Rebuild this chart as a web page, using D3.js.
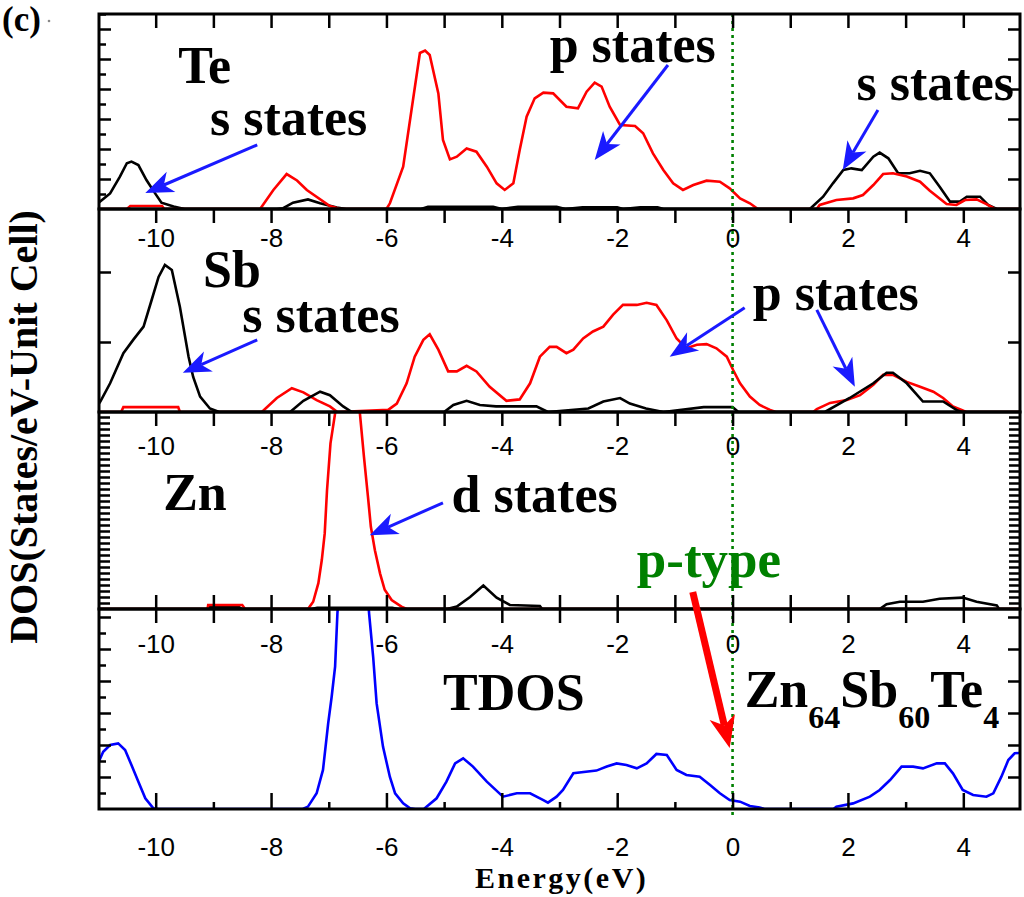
<!DOCTYPE html>
<html><head><meta charset="utf-8">
<script src="https://cdnjs.cloudflare.com/ajax/libs/d3/7.8.5/d3.min.js"></script>
<style>body{margin:0;background:#fff}svg{display:block}</style>
</head><body>
<svg id="chart" width="1024" height="897"></svg>
<script>
// ---------------- data ----------------
const energyTicks = [-10, -8, -6, -4, -2, 0, 2, 4];
const energyTickLabels = ["-10", "-8", "-6", "-4", "-2", "0", "2", "4"];
const energyMinorTicks = [-10, -9, -8, -7, -6, -5, -4, -3, -2, -1, 0, 1, 2, 3, 4];
const panelNames = ["Te", "Sb", "Zn", "TDOS"];

// Te s states (black)
const teS = [[-11,0.38],[-10.79,1.04],[-10.62,2.16],[-10.5,3.05],[-10.42,3.16],[-10.3,2.93],[-10.16,1.93],[-10.01,1.04],[-9.9,0.42],[-9.69,0.16],[-9.5,0],[-7.9,0],[-7.79,0.05],[-7.62,0.42],[-7.36,0.64],[-7.15,0.38],[-6.86,0.1],[-6.7,0],[-5.4,0],[-5.28,0.15],[-4.15,0.15],[-4.0,0],[-3.72,0.15],[-3.05,0.15],[-2.9,0],[-2.6,0.12],[-2.0,0.12],[-1.9,0],[-1.6,0.12],[-1.3,0.12],[-1.2,0],[1.34,0],[1.57,0.82],[1.74,1.71],[1.92,2.6],[2.06,2.71],[2.24,2.6],[2.44,3.49],[2.55,3.76],[2.7,3.38],[2.87,2.38],[3.07,2.38],[3.25,2.55],[3.42,2.38],[3.59,1.49],[3.77,0.49],[3.94,0.49],[4.06,0.82],[4.29,0.82],[4.43,0.27],[4.58,0],[5,0]];
// Te p states (red)
const teP = [[-11,0],[-10.5,0],[-10.44,0.2],[-9.89,0.2],[-9.85,0],[-8.19,0],[-7.96,1.27],[-7.73,2.33],[-7.55,1.9],[-7.38,1.27],[-6.98,0.2],[-6.8,0],[-6.0,0],[-5.94,0.38],[-5.71,2.82],[-5.54,7.27],[-5.42,10.4],[-5.33,10.56],[-5.25,10.27],[-5.1,7.71],[-5.02,4.6],[-4.9,3.31],[-4.78,3.49],[-4.61,4.04],[-4.44,3.82],[-4.26,2.82],[-4.09,1.71],[-3.95,1.27],[-3.8,1.71],[-3.69,3.93],[-3.57,6.15],[-3.43,7.38],[-3.28,7.76],[-3.11,7.71],[-2.88,6.82],[-2.68,6.71],[-2.53,7.82],[-2.39,8.42],[-2.27,8.16],[-2.13,6.82],[-1.95,5.6],[-1.69,5.53],[-1.55,5.05],[-1.38,3.71],[-1.2,2.6],[-1.03,1.71],[-0.86,1.27],[-0.68,1.6],[-0.45,1.89],[-0.22,1.82],[-0.05,1.38],[0.13,0.71],[0.3,0.38],[0.44,0],[1.46,0],[1.51,0.27],[1.8,0.6],[2.09,0.71],[2.26,0.93],[2.44,1.6],[2.61,2.33],[2.78,2.38],[3.02,2.16],[3.25,1.82],[3.42,1.22],[3.71,0.33],[3.88,0.27],[4.03,0.6],[4.23,0.64],[4.4,0.33],[4.55,0],[5,0]];
// Sb s states (black)
const sbS = [[-11,0.1],[-10.96,0.15],[-10.79,0.41],[-10.56,0.84],[-10.39,1.03],[-10.21,1.22],[-10.07,1.6],[-9.95,1.93],[-9.84,2.1],[-9.72,2.03],[-9.58,1.5],[-9.43,0.79],[-9.35,0.5],[-9.23,0.22],[-9.06,0.05],[-8.9,0],[-7.67,0],[-7.44,0.16],[-7.15,0.29],[-6.98,0.24],[-6.75,0.08],[-6.6,0],[-5.0,0],[-4.84,0.1],[-4.61,0.16],[-4.38,0.1],[-4.1,0.08],[-3.4,0.08],[-3.2,0],[-2.5,0.05],[-2.24,0.15],[-1.95,0.2],[-1.78,0.12],[-1.5,0.05],[-1.2,0],[-0.5,0.07],[0,0.07],[0.1,0],[1.6,0],[2.03,0.2],[2.44,0.41],[2.67,0.56],[2.78,0.56],[3.02,0.41],[3.3,0.15],[3.65,0.15],[3.88,0.03],[3.97,0],[5,0]];
// Sb p states (red)
const sbP = [[-11,0],[-10.6,0],[-10.56,0.07],[-9.61,0.07],[-9.58,0],[-8.16,0],[-7.9,0.2],[-7.64,0.34],[-7.44,0.28],[-7.21,0.17],[-6.98,0.08],[-6.85,0],[-5.97,0.03],[-5.82,0.12],[-5.65,0.41],[-5.51,0.79],[-5.36,1.03],[-5.25,1.11],[-5.1,0.89],[-4.93,0.58],[-4.78,0.58],[-4.61,0.66],[-4.44,0.58],[-4.21,0.36],[-3.92,0.16],[-3.69,0.18],[-3.51,0.41],[-3.34,0.79],[-3.17,0.93],[-3.05,0.93],[-2.88,0.84],[-2.76,0.89],[-2.59,1.05],[-2.42,1.15],[-2.24,1.22],[-2.07,1.39],[-1.9,1.53],[-1.66,1.53],[-1.49,1.56],[-1.32,1.53],[-1.14,1.31],[-0.97,1.05],[-0.8,0.91],[-0.62,0.96],[-0.45,0.97],[-0.28,0.91],[-0.1,0.79],[0.01,0.6],[0.13,0.41],[0.3,0.22],[0.47,0.1],[0.65,0.03],[0.75,0],[1.4,0],[1.46,0.04],[1.69,0.13],[1.98,0.17],[2.21,0.24],[2.44,0.39],[2.61,0.53],[2.78,0.53],[3.02,0.43],[3.25,0.36],[3.48,0.29],[3.65,0.2],[3.82,0.08],[3.97,0.03],[4.05,0],[5,0]];
// Zn s/p states (black)
const znS = [[-11,0],[-9.1,0],[-9.09,0.3],[-8.55,0.3],[-8.5,0],[-7.3,0],[-7.2,0.2],[-5.9,0.2],[-5.8,0],[-4.95,0],[-4.78,0.4],[-4.55,2.0],[-4.32,3.9],[-4.09,1.9],[-3.86,0.67],[-3.34,0.5],[-3.3,0],[2.55,0],[2.67,0.8],[2.9,1.2],[3.3,1.2],[3.59,1.7],[3.99,1.9],[4.23,1.2],[4.58,0.6],[4.62,0],[5,0]];
// Zn d states (red)
const znD = [[-11,0],[-9.1,0],[-9.09,0.67],[-8.5,0.67],[-8.45,0],[-7.36,0],[-7.27,1.2],[-7.18,4.3],[-7.12,8.2],[-7.07,12.6],[-7.03,19.8],[-6.97,27.6],[-6.89,32.6],[-6.8,42],[-6.68,48],[-6.55,42],[-6.46,32.6],[-6.39,25.4],[-6.32,18.7],[-6.27,13.7],[-6.2,9.8],[-6.11,5.9],[-6.03,3.2],[-5.91,1.5],[-5.74,0.4],[-5.65,0],[5,0]];
// total DOS (blue)
const tdos = [[-11,2.85],[-10.91,3.58],[-10.79,4.0],[-10.65,4.1],[-10.53,3.69],[-10.42,2.75],[-10.3,1.71],[-10.18,0.67],[-10.04,0.04],[-9.95,0],[-7.45,0],[-7.36,0.15],[-7.21,0.98],[-7.1,2.44],[-7.01,5.35],[-6.95,7.0],[-6.89,8.9],[-6.85,12.2],[-6.75,18],[-6.6,22],[-6.42,18],[-6.3,12.2],[-6.23,9.5],[-6.17,6.6],[-6.06,3.9],[-5.94,2.0],[-5.85,0.98],[-5.71,0.35],[-5.59,0.04],[-5.5,0],[-5.35,0],[-5.3,0.15],[-5.13,0.67],[-4.96,1.71],[-4.81,2.85],[-4.67,3.17],[-4.5,2.65],[-4.26,1.71],[-3.98,0.77],[-3.74,0.98],[-3.51,0.98],[-3.28,0.56],[-3.2,0.4],[-3.05,0.77],[-2.94,1.19],[-2.76,2.23],[-2.36,2.4],[-2.18,2.65],[-2.01,2.85],[-1.84,2.75],[-1.66,2.54],[-1.49,2.85],[-1.32,3.44],[-1.14,3.38],[-0.97,2.44],[-0.8,2.13],[-0.57,2.02],[-0.39,1.5],[-0.22,0.98],[-0.05,0.56],[0.13,0.46],[0.3,0.19],[0.47,0.1],[0.55,0],[1.75,0],[1.8,0.15],[2.09,0.35],[2.38,0.77],[2.55,1.19],[2.73,1.81],[2.93,2.65],[3.13,2.65],[3.3,2.54],[3.54,2.85],[3.68,2.85],[3.82,2.23],[3.99,1.19],[4.17,0.88],[4.4,0.77],[4.52,0.98],[4.66,2.02],[4.78,3.06],[4.89,3.48],[5.03,3.52]];

// ---------------- layout ----------------
const svg = d3.select("#chart");
const X0 = 98, X1 = 1021;
const x = d3.scaleLinear().domain([-11, 5]).range([X0, X1]);
const serif = "'Liberation Serif','Times New Roman',serif";
const sans = "'Liberation Sans',Arial,sans-serif";

const panels = [
  {top: 14,  bottom: 209, ymax: 13,    left: d3.range(1, 14), leftMajor: 2, right: d3.range(2, 13, 2),
   series: [{d: teS, c: "#000"}, {d: teP, c: "#ff0000"}], labelOff: null, botTicks: false},
  {top: 209, bottom: 412, ymax: 2.9,   left: [1, 2], leftMajor: 1, right: [1, 2],
   series: [{d: sbP, c: "#ff0000"}, {d: sbS, c: "#000"}], labelOff: 38, botTicks: false},
  {top: 412, bottom: 609, ymax: 197/6, left: d3.range(1, 33), leftMajor: 1, right: d3.range(1, 33),
   series: [{d: znS, c: "#000"}, {d: znD, c: "#ff0000"}], labelOff: 43, botTicks: "all"},
  {top: 609, bottom: 809, ymax: 12.5,  left: d3.range(1, 13), leftMajor: 2, right: d3.range(2, 13, 2),
   series: [{d: tdos, c: "#0000ff"}], labelOff: 44, botTicks: "majmin"}
];
panels.forEach(p => { p.y = d3.scaleLinear().domain([0, p.ymax]).range([p.bottom, p.top]); });

const defs = svg.append("defs");
panels.forEach((p, i) => {
  defs.append("clipPath").attr("id", "clip" + i).append("rect")
    .attr("x", X0).attr("y", p.top + 1).attr("width", X1 - X0).attr("height", p.bottom - p.top - 1);
});

// curves
panels.forEach((p, i) => {
  const g = svg.append("g").attr("clip-path", `url(#clip${i})`);
  const line = d3.line().x(d => x(d[0])).y(d => p.y(d[1]));
  p.series.forEach(s => {
    g.append("path").datum(s.d).attr("d", line)
      .attr("fill", "none").attr("stroke", s.c).attr("stroke-width", 2.6)
      .attr("stroke-linejoin", "miter");
  });
});

// Fermi level dotted line
svg.append("line").attr("x1", x(0)).attr("x2", x(0))
  .attr("y1", panels[0].top).attr("y2", panels[3].bottom + 8)
  .attr("stroke", "#008000").attr("stroke-width", 2.6).attr("stroke-dasharray", "3,4");

// axes & frames
function styleAxis(g) {
  g.select(".domain").remove();
  g.selectAll(".tick line").attr("stroke", "#000").attr("stroke-width", 2.5);
}
panels.forEach((p, i) => {
  svg.append("g").attr("transform", `translate(0,${p.top})`)
    .call(d3.axisTop(x).tickValues(energyMinorTicks).tickSize(-14).tickFormat(""))
    .call(styleAxis);
  if (p.botTicks === "all") {
    svg.append("g").attr("transform", `translate(0,${p.bottom})`)
      .call(d3.axisBottom(x).tickValues(energyMinorTicks).tickSize(-14).tickFormat(""))
      .call(styleAxis);
  } else if (p.botTicks === "majmin") {
    svg.append("g").attr("transform", `translate(0,${p.bottom})`)
      .call(d3.axisBottom(x).tickValues(energyMinorTicks.filter(v => v % 2 !== 0)).tickSize(-7).tickFormat(""))
      .call(styleAxis);
    svg.append("g").attr("transform", `translate(0,${p.bottom})`)
      .call(d3.axisBottom(x).tickValues(energyTicks).tickSize(-16).tickFormat(""))
      .call(styleAxis);
  }
  if (p.labelOff) {
    const g = svg.append("g").attr("transform", `translate(0,${p.top})`)
      .call(d3.axisTop(x).tickValues(energyTicks).tickSize(0).tickPadding(-p.labelOff)
        .tickFormat((d, k) => energyTickLabels[k]));
    styleAxis(g);
    g.selectAll("text").attr("font-family", sans).attr("font-size", 26).attr("fill", "#000");
  }
  const major = p.left.filter(v => v % p.leftMajor === 0);
  const minor = p.left.filter(v => v % p.leftMajor !== 0);
  const lenMaj = i === 2 ? 11 : 12;
  svg.append("g").attr("transform", `translate(${X0 + 1},0)`)
    .call(d3.axisLeft(p.y).tickValues(major).tickSize(-lenMaj).tickFormat("")).call(styleAxis);
  if (minor.length) {
    svg.append("g").attr("transform", `translate(${X0 + 1},0)`)
      .call(d3.axisLeft(p.y).tickValues(minor).tickSize(-7).tickFormat("")).call(styleAxis);
  }
  svg.append("g").attr("transform", `translate(${X1 - 1},0)`)
    .call(d3.axisRight(p.y).tickValues(p.right).tickSize(-(i === 2 ? 11 : 12)).tickFormat("")).call(styleAxis);
  svg.append("rect").attr("x", X0 + 1).attr("y", p.top).attr("width", X1 - X0 - 2).attr("height", p.bottom - p.top)
    .attr("fill", "none").attr("stroke", "#000").attr("stroke-width", 3);
});

// bottom tick labels
{
  const g = svg.append("g").attr("transform", `translate(0,${panels[3].bottom})`)
    .call(d3.axisBottom(x).tickValues(energyTicks).tickSize(0).tickPadding(29)
      .tickFormat((d, k) => energyTickLabels[k]));
  styleAxis(g);
  g.selectAll("text").attr("font-family", sans).attr("font-size", 26).attr("fill", "#000").attr("dy", "0.71em");
}

// axis titles
svg.append("text").attr("x", 475).attr("y", 888)
  .attr("font-family", serif).attr("font-weight", "bold").attr("font-size", 30)
  .attr("letter-spacing", 2.5).text("Energy(eV)");
svg.append("text").attr("transform", "translate(37,427) rotate(-90)").attr("text-anchor", "middle")
  .attr("font-family", serif).attr("font-weight", "bold").attr("font-size", 40)
  .text("DOS(States/eV-Unit Cell)");
svg.append("text").attr("x", 2).attr("y", 31)
  .attr("font-family", serif).attr("font-weight", "bold").attr("font-size", 35).text("(c)");
svg.append("circle").attr("cx", 49).attr("cy", 21).attr("r", 1.3).attr("fill", "#888");

// annotations (placed in data coordinates of each panel)
function P(i, E, v) { return [x(E), panels[i].y(v)]; }
function label(i, E, v, t, color, size) {
  const [px, py] = P(i, E, v);
  return svg.append("text").attr("x", px).attr("y", py)
    .attr("font-family", serif).attr("font-weight", "bold").attr("font-size", size || 52)
    .attr("fill", color || "#000").text(t);
}
function arrow(i, E1, v1, E2, v2, color, w, hl, hw) {
  const [x1, y1] = P(i, E1, v1), [x2, y2] = P(i, E2, v2);
  const dx = x2 - x1, dy = y2 - y1, L = Math.hypot(dx, dy), ux = dx / L, uy = dy / L, nx = -uy, ny = ux;
  const bx = x2 - ux * hl, by = y2 - uy * hl;
  const mx = x2 - ux * hl * 0.72, my = y2 - uy * hl * 0.72;
  svg.append("line").attr("x1", x1).attr("y1", y1).attr("x2", mx).attr("y2", my)
    .attr("stroke", color).attr("stroke-width", w);
  svg.append("path")
    .attr("d", `M${x2},${y2}L${bx + nx * hw},${by + ny * hw}L${mx},${my}L${bx - nx * hw},${by - ny * hw}Z`)
    .attr("fill", color);
}
const blue = "#1a1aff";
label(0, -9.61, 8.4, "Te");
label(0, -9.06, 4.93, "s states");
label(0, -3.17, 9.8, "p states");
label(0, 2.15, 7.27, "s states");
arrow(0, -8.24, 4.27, -10.18, 1.07, blue, 3, 28, 11);
arrow(0, -1.12, 9.6, -2.39, 3.27, blue, 3, 28, 11);
arrow(0, 2.52, 6.6, 1.91, 2.6, blue, 3, 28, 11);
label(1, -9.18, 1.79, "Sb");
label(1, -8.50, 1.14, "s states");
label(1, 0.35, 1.46, "p states");
arrow(1, -8.24, 1.03, -9.53, 0.56, blue, 3, 28, 11);
arrow(1, 0.21, 1.49, -1.09, 0.79, blue, 3, 28, 11);
arrow(1, 1.46, 1.46, 2.12, 0.36, blue, 3, 28, 11);
label(2, -9.87, 16.5, "Zn");
label(2, -4.87, 16.2, "d states");
arrow(2, -5.02, 17.7, -6.29, 12.3, blue, 3, 28, 11);
label(2, -1.66, 5.33, "p-type", "#008000", 53);
label(3, -5.02, 6.19, "TDOS");
{
  const [fx, fy] = P(3, 0.21, 6.38);
  const t = svg.append("text").attr("x", fx).attr("y", fy)
    .attr("font-family", serif).attr("font-weight", "bold").attr("font-size", 52);
  t.append("tspan").text("Zn");
  t.append("tspan").attr("font-size", 32).attr("dy", 21).text("64");
  t.append("tspan").attr("dy", -21).text("Sb");
  t.append("tspan").attr("font-size", 32).attr("dy", 21).text("60");
  t.append("tspan").attr("dy", -21).text("Te");
  t.append("tspan").attr("font-size", 32).attr("dy", 21).text("4");
}
arrow(3, -0.69, 13.56, -0.05, 3.81, "#ff0000", 7, 32, 13);
</script>
</body></html>
